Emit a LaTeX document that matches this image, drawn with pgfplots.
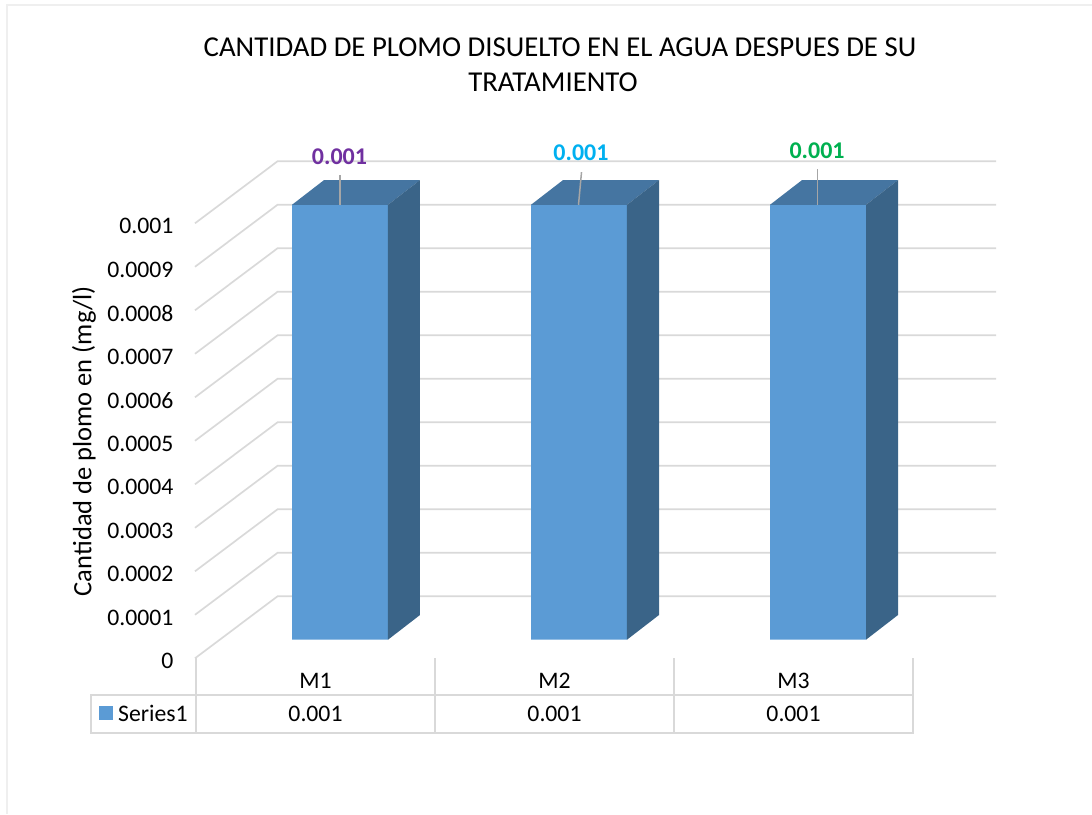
\documentclass[border=0pt]{standalone}
\usepackage{pgfplots}
\pgfplotsset{compat=1.18}
\usepackage{fontspec}
\setmainfont{Carlito}
\definecolor{barfront}{HTML}{5B9BD5}
\definecolor{bartop}{HTML}{4575A1}
\definecolor{barside}{HTML}{3A6488}
\definecolor{gridc}{HTML}{D9D9D9}
\definecolor{leader}{HTML}{A6A6A6}
\definecolor{edgec}{HTML}{EFEFEF}
\definecolor{lab1}{HTML}{7030A0}
\definecolor{lab2}{HTML}{00B0F0}
\definecolor{lab3}{HTML}{00B050}
\newcommand{\fs}[1]{\fontsize{#1}{#1}\selectfont}
\pgfplotstableread{
x y
0 0.001
1 0.001
2 0.001
}\bardata
\begin{document}
\begin{tikzpicture}[x=1pt,y=-1pt]
\path[use as bounding box] (0,0) rectangle (1092,814);
\draw[edgec,line width=2pt] (7,814) -- (7,5) -- (1092,5);
% title
\node[font=\fs{28.8},inner sep=0pt,anchor=base] at (560,56.5) {CANTIDAD DE PLOMO DISUELTO EN EL AGUA DESPUES DE SU};
\node[font=\fs{28.8},inner sep=0pt,anchor=base] at (553,91.5) {TRATAMIENTO};
% walls and ticks axis: y is the true value on the front edge
\begin{axis}[
  at={(195pt,-658.3pt)},anchor=south west,
  width=801pt,height=497pt,scale only axis,
  xmin=-0.5042,xmax=2.8473,ymin=0,ymax=0.0011425,
  axis line style={draw=none},
  clip=false,
  scaled y ticks=false,
  major tick length=0pt,
  ytick={0,0.0001,0.0002,0.0003,0.0004,0.0005,0.0006,0.0007,0.0008,0.0009,0.001},
  yticklabels={0,0.0001,0.0002,0.0003,0.0004,0.0005,0.0006,0.0007,0.0008,0.0009,0.001},
  xtick={0,1,2},xticklabels={M1,M2,M3},
  tick label style={font=\fs{23.7}},
  yticklabel style={xshift=-18pt,yshift=-3pt},
  xticklabel style={yshift=-11pt},
  ylabel={Cantidad de plomo en (mg/l)},
  ylabel style={font=\fs{26.5},at={(axis description cs:0,0.437)},anchor=center,yshift=111pt},
]
\addplot[gridc,line width=1.7pt] coordinates {(-0.5042,0) (-0.1590,0.0001425) (2.8473,0.0001425)};
\addplot[gridc,line width=1.7pt] coordinates {(-0.5042,0.0001) (-0.1590,0.0002425) (2.8473,0.0002425)};
\addplot[gridc,line width=1.7pt] coordinates {(-0.5042,0.0002) (-0.1590,0.0003425) (2.8473,0.0003425)};
\addplot[gridc,line width=1.7pt] coordinates {(-0.5042,0.0003) (-0.1590,0.0004425) (2.8473,0.0004425)};
\addplot[gridc,line width=1.7pt] coordinates {(-0.5042,0.0004) (-0.1590,0.0005425) (2.8473,0.0005425)};
\addplot[gridc,line width=1.7pt] coordinates {(-0.5042,0.0005) (-0.1590,0.0006425) (2.8473,0.0006425)};
\addplot[gridc,line width=1.7pt] coordinates {(-0.5042,0.0006) (-0.1590,0.0007425) (2.8473,0.0007425)};
\addplot[gridc,line width=1.7pt] coordinates {(-0.5042,0.0007) (-0.1590,0.0008425) (2.8473,0.0008425)};
\addplot[gridc,line width=1.7pt] coordinates {(-0.5042,0.0008) (-0.1590,0.0009425) (2.8473,0.0009425)};
\addplot[gridc,line width=1.7pt] coordinates {(-0.5042,0.0009) (-0.1590,0.0010425) (2.8473,0.0010425)};
\addplot[gridc,line width=1.7pt] coordinates {(-0.5042,0.001) (-0.1590,0.0011425) (2.8473,0.0011425)};
\end{axis}
% bars axis: same box, y true at the bar base
\begin{axis}[
  at={(195pt,-658.3pt)},anchor=south west,
  width=801pt,height=497pt,scale only axis,
  xmin=-0.6067,xmax=2.7448,ymin=-0.00004276,ymax=0.0011,
  hide axis,clip=false,
]
\addplot[ybar,bar width=96pt,fill=barfront,draw=none,bar shift=0pt] table[x=x,y=y] {\bardata};
\addplot[fill=bartop,draw=none] coordinates {(-0.2008,0.001) (-0.0669,0.0010568) (0.3347,0.0010568) (0.2008,0.001)} --cycle;
\addplot[fill=bartop,draw=none] coordinates {(0.7992,0.001) (0.9331,0.0010568) (1.3347,0.0010568) (1.2008,0.001)} --cycle;
\addplot[fill=bartop,draw=none] coordinates {(1.7992,0.001) (1.9331,0.0010568) (2.3347,0.0010568) (2.2008,0.001)} --cycle;
\addplot[fill=barside,draw=none] coordinates {(0.2008,0) (0.3347,0.0000568) (0.3347,0.0010568) (0.2008,0.001)} --cycle;
\addplot[fill=barside,draw=none] coordinates {(1.2008,0) (1.3347,0.0000568) (1.3347,0.0010568) (1.2008,0.001)} --cycle;
\addplot[fill=barside,draw=none] coordinates {(2.2008,0) (2.3347,0.0000568) (2.3347,0.0010568) (2.2008,0.001)} --cycle;
\addplot[leader,line width=1.5pt] coordinates {(0,0.001) (0,0.001068)};
\addplot[leader,line width=1.5pt] coordinates {(0.9979,0.001) (1.0105,0.001075)};
\addplot[leader,line width=1.5pt] coordinates {(1.9979,0.001) (1.9979,0.001083)};
\node[font=\fs{24}\bfseries,text=lab1] at (axis cs:-0.002,0.00111) {0.001};
\node[font=\fs{24}\bfseries,text=lab2] at (axis cs:1.0084,0.001119) {0.001};
\node[font=\fs{24}\bfseries,text=lab3] at (axis cs:1.996,0.001124) {0.001};
\end{axis}
% data table
\draw[gridc,line width=1.7pt] (91,694.7) -- (913,694.7) (91,732.7) -- (913,732.7) (91,694) -- (91,733.5);
\foreach \xx in {196,435,674,913} \draw[gridc,line width=1.7pt] (\xx,658.3) -- (\xx,733.5);
\fill[barfront] (99,706) rectangle (113,720);
\node[font=\fs{23.7},anchor=west,inner sep=0pt] at (118,713.5) {Series1};
\node[font=\fs{23.7}] at (315.5,713.5) {0.001};
\node[font=\fs{23.7}] at (554.5,713.5) {0.001};
\node[font=\fs{23.7}] at (793.5,713.5) {0.001};
\end{tikzpicture}
\end{document}
